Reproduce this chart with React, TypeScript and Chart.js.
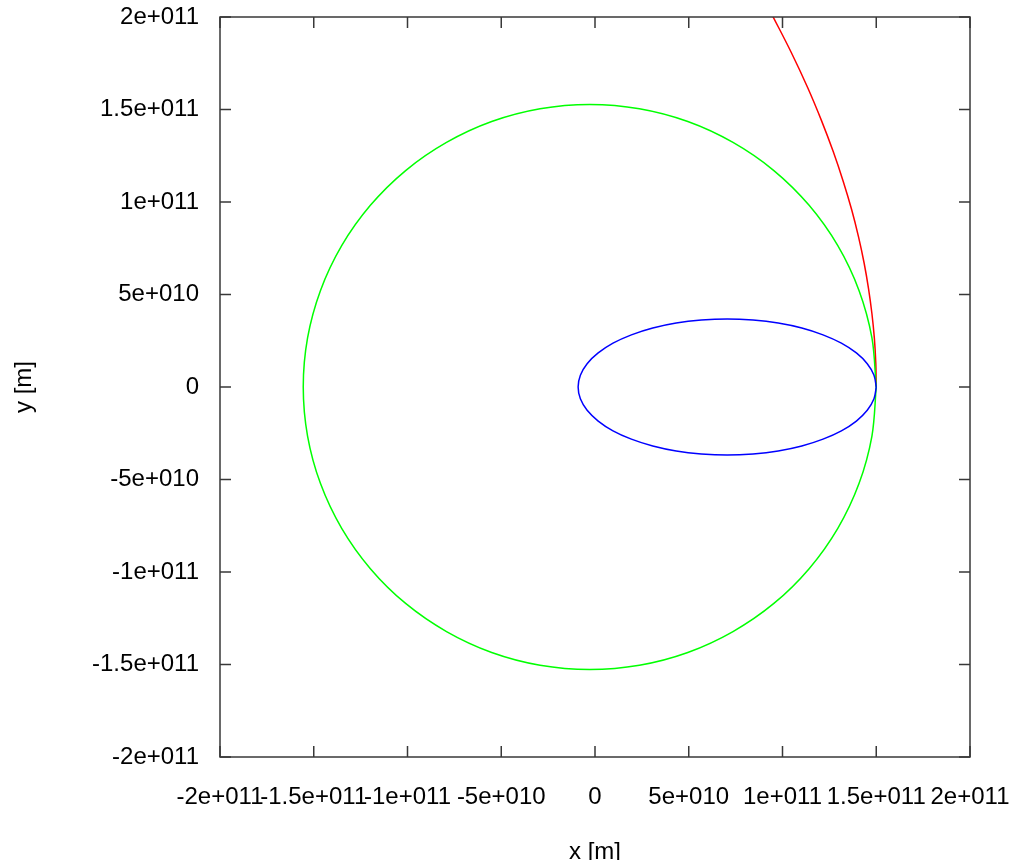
import React, { useEffect, useRef } from "react";
import { Chart, registerables } from "chart.js";

Chart.register(...registerables);

// Axis ticks and labels (gnuplot style)
const xTickValues = [-2e11, -1.5e11, -1e11, -5e10, 0, 5e10, 1e11, 1.5e11, 2e11];
const xTickLabels = ["-2e+011", "-1.5e+011", "-1e+011", "-5e+010", "0", "5e+010", "1e+011", "1.5e+011", "2e+011"];
const yTickValues = [-2e11, -1.5e11, -1e11, -5e10, 0, 5e10, 1e11, 1.5e11, 2e11];
const yTickLabels = ["-2e+011", "-1.5e+011", "-1e+011", "-5e+010", "0", "5e+010", "1e+011", "1.5e+011", "2e+011"];

// Green orbit (near circular)
const greenX = [
  1.500e11, 1.477e11, 1.408e11, 1.295e11, 1.142e11, 0.954e11, 0.736e11, 0.495e11, 0.237e11,
  -0.028e11, -0.293e11, -0.551e11, -0.792e11, -1.010e11, -1.198e11, -1.351e11, -1.464e11, -1.533e11,
  -1.556e11, -1.533e11, -1.464e11, -1.351e11, -1.198e11, -1.010e11, -0.792e11, -0.551e11, -0.293e11,
  -0.028e11, 0.237e11, 0.495e11, 0.736e11, 0.954e11, 1.142e11, 1.295e11, 1.408e11, 1.477e11, 1.500e11,
];
const greenY = [
  0, 0.265e11, 0.522e11, 0.764e11, 0.982e11, 1.170e11, 1.322e11, 1.435e11, 1.504e11,
  1.527e11, 1.504e11, 1.435e11, 1.322e11, 1.170e11, 0.982e11, 0.764e11, 0.522e11, 0.265e11,
  0, -0.265e11, -0.522e11, -0.764e11, -0.982e11, -1.170e11, -1.322e11, -1.435e11, -1.504e11,
  -1.527e11, -1.504e11, -1.435e11, -1.322e11, -1.170e11, -0.982e11, -0.764e11, -0.522e11, -0.265e11, 0,
];

// Blue orbit (eccentric ellipse)
const blueX = [
  1.500e11, 1.488e11, 1.452e11, 1.394e11, 1.314e11, 1.216e11, 1.103e11, 0.977e11, 0.843e11,
  0.705e11, 0.567e11, 0.433e11, 0.308e11, 0.194e11, 0.096e11, 0.017e11, -0.042e11, -0.078e11,
  -0.090e11, -0.078e11, -0.042e11, 0.017e11, 0.096e11, 0.194e11, 0.308e11, 0.433e11, 0.567e11,
  0.705e11, 0.843e11, 0.977e11, 1.103e11, 1.216e11, 1.314e11, 1.394e11, 1.452e11, 1.488e11, 1.500e11,
];
const blueY = [
  0, 0.064e11, 0.126e11, 0.184e11, 0.237e11, 0.282e11, 0.319e11, 0.346e11, 0.362e11,
  0.368e11, 0.362e11, 0.346e11, 0.319e11, 0.282e11, 0.237e11, 0.184e11, 0.126e11, 0.064e11,
  0, -0.064e11, -0.126e11, -0.184e11, -0.237e11, -0.282e11, -0.319e11, -0.346e11, -0.362e11,
  -0.368e11, -0.362e11, -0.346e11, -0.319e11, -0.282e11, -0.237e11, -0.184e11, -0.126e11, -0.064e11, 0,
];

// Red escape trajectory
const redX = [1.500e11, 1.4975e11, 1.490e11, 1.477e11, 1.459e11, 1.4355e11, 1.4055e11, 1.369e11, 1.324e11, 1.271e11, 1.208e11, 1.134e11, 1.0455e11, 0.941e11];
const redY = [0, 0.131e11, 0.263e11, 0.396e11, 0.531e11, 0.669e11, 0.8115e11, 0.958e11, 1.111e11, 1.271e11, 1.440e11, 1.619e11, 1.811e11, 2.018e11];

const toPoints = (xs: number[], ys: number[]) => xs.map((x, i) => ({ x, y: ys[i] }));

const FONT = "'Liberation Sans', Arial, sans-serif";

const labelFor = (values: number[], labels: string[], v: number) => {
  const i = values.findIndex((t) => Math.abs(t - v) < 1e6);
  return i >= 0 ? labels[i] : "";
};

const zeroPadding = (s: any) => {
  s.paddingLeft = 0;
  s.paddingRight = 0;
  s.paddingTop = 0;
  s.paddingBottom = 0;
};

const framePlugin = {
  id: "gnuFrame",
  afterDatasetsDraw(chart: any) {
    const { ctx, chartArea } = chart;
    const { left, right, top, bottom } = chartArea;
    const xs = chart.scales.x;
    const ys = chart.scales.y;
    const tl = 11;
    ctx.save();
    ctx.strokeStyle = "#383838";
    ctx.lineWidth = 1.5;
    ctx.beginPath();
    xs.ticks.forEach((t: any) => {
      const px = xs.getPixelForValue(t.value);
      ctx.moveTo(px, bottom);
      ctx.lineTo(px, bottom - tl);
      ctx.moveTo(px, top);
      ctx.lineTo(px, top + tl);
    });
    ys.ticks.forEach((t: any) => {
      const py = ys.getPixelForValue(t.value);
      ctx.moveTo(left, py);
      ctx.lineTo(left + tl, py);
      ctx.moveTo(right, py);
      ctx.lineTo(right - tl, py);
    });
    ctx.stroke();
    ctx.strokeRect(left, top, right - left, bottom - top);
    ctx.restore();
  },
};

export default function App() {
  const canvasRef = useRef<HTMLCanvasElement | null>(null);

  useEffect(() => {
    if (!canvasRef.current) return;
    const chart = new Chart(canvasRef.current, {
      type: "scatter",
      data: {
        datasets: [
          {
            label: "blue",
            data: toPoints(blueX, blueY),
            showLine: true,
            borderColor: "#0000ff",
            borderWidth: 1.5,
            pointRadius: 0,
            tension: 0.35,
            fill: false,
          },
          {
            label: "green",
            data: toPoints(greenX, greenY),
            showLine: true,
            borderColor: "#00ff00",
            borderWidth: 1.5,
            pointRadius: 0,
            tension: 0.33,
            fill: false,
          },
          {
            label: "red",
            data: toPoints(redX, redY),
            showLine: true,
            borderColor: "#ff0000",
            borderWidth: 1.5,
            pointRadius: 0,
            tension: 0.35,
            fill: false,
          },
        ],
      },
      options: {
        animation: false,
        responsive: true,
        maintainAspectRatio: false,
        layout: { padding: { left: 0, right: 45, top: 17, bottom: 0 } },
        plugins: {
          legend: { display: false },
          tooltip: { enabled: false },
        },
        scales: {
          x: {
            type: "linear",
            min: -2e11,
            max: 2e11,
            grid: { display: false, drawTicks: false },
            border: { display: false },
            ticks: {
              stepSize: 5e10,
              autoSkip: false,
              maxRotation: 0,
              minRotation: 0,
              color: "#000",
              padding: 28,
              font: { family: FONT, size: 24, lineHeight: 1 },
              callback: (v: any) => labelFor(xTickValues, xTickLabels, Number(v)),
            },
            title: {
              display: true,
              text: "x [m]",
              color: "#000",
              font: { family: FONT, size: 24 },
              padding: { top: 0, bottom: 13 },
            },
            afterFit: (s: any) => {
              s.height = 123;
              zeroPadding(s);
            },
          },
          y: {
            type: "linear",
            min: -2e11,
            max: 2e11,
            grid: { display: false, drawTicks: false },
            border: { display: false },
            ticks: {
              stepSize: 5e10,
              autoSkip: false,
              color: "#000",
              padding: 21,
              font: { family: FONT, size: 24, lineHeight: 1 },
              callback: (v: any) => labelFor(yTickValues, yTickLabels, Number(v)),
            },
            title: {
              display: true,
              text: "y [m]",
              color: "#000",
              font: { family: FONT, size: 24 },
              padding: { top: 10, bottom: 0 },
            },
            afterFit: (s: any) => {
              s.width = 220;
              zeroPadding(s);
            },
          },
        },
      },
      plugins: [framePlugin],
    } as any);
    return () => chart.destroy();
  }, []);

  return (
    <div
      style={{
        position: "fixed",
        left: 0,
        top: 0,
        width: 1015,
        height: 860,
        overflow: "hidden",
        background: "#fff",
      }}
    >
      <div style={{ position: "relative", width: 1015, height: 880 }}>
        <canvas ref={canvasRef} />
      </div>
    </div>
  );
}
